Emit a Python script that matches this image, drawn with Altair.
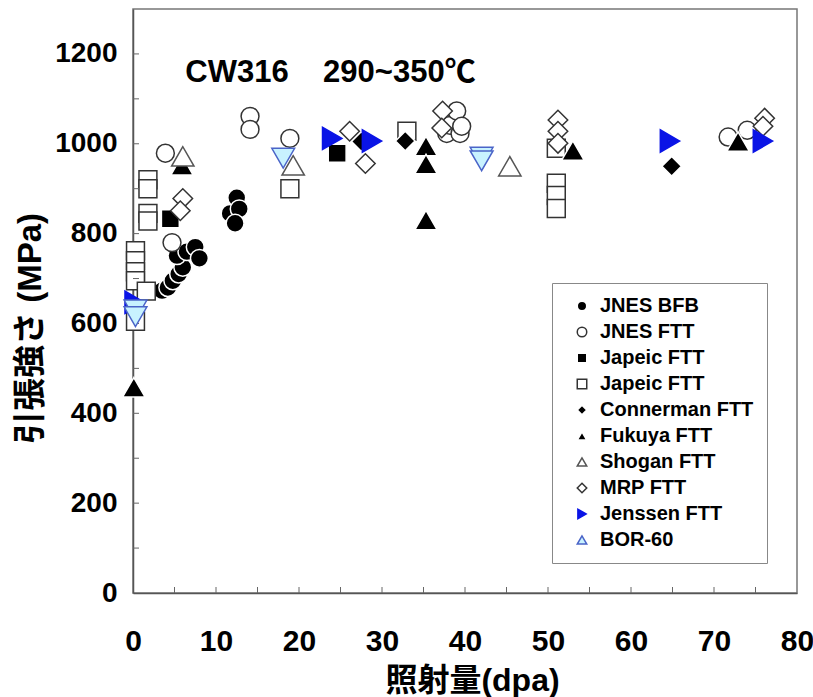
import altair as alt
import pandas as pd

FONT = "Liberation Sans, Arial, Noto Sans CJK JP, sans-serif"

series_names = ["JNES BFB", "JNES FTT", "Japeic FTT", "Japeic FTT\u00a0", "Connerman FTT",
                "Fukuya FTT", "Shogan FTT", "MRP FTT", "Jenssen FTT", "BOR-60"]
shapes = ["circle", "circle", "square", "square", "diamond",
          "triangle-up", "triangle-up", "diamond", "triangle-right", "triangle-up"]
fills = ["#000000", "#ffffff", "#000000", "#ffffff", "#000000",
         "#000000", "#ffffff", "#ffffff", "#0a14e6", "#c8f2ff"]
strokes = ["#ffffff", "#333333", "#ffffff", "#333333", "#ffffff",
           "#ffffff", "#555555", "#333333", "#0a14e6", "#4a64c8"]

jnes_bfb_x = [3.5, 4.2, 4.8, 5.5, 6.0, 5.3, 6.5, 7.5, 8.0, 11.7, 12.5, 12.8, 12.3]
jnes_bfb_y = [673, 680, 695, 710, 725, 751, 760, 770, 745, 845, 880, 855, 823]
jnes_ftt_x = [3.9, 4.7, 14.1, 14.1, 18.9, 37.8, 38.2, 39.0, 39.4, 39.6, 71.7, 74.0]
jnes_ftt_y = [979, 780, 1061, 1032, 1012, 1023, 1041, 1073, 1023, 1039, 1015, 1030]
japeic_f_x = [4.5, 24.6]
japeic_f_y = [833, 979]
japeic_o_x = [1.8, 1.8, 1.8, 1.8, 0.3, 0.3, 0.3, 0.3, 1.6, 0.3, 18.9, 33.0, 51.0, 51.0, 51.0, 51.0]
japeic_o_y = [920, 900, 845, 828, 762, 740, 715, 695, 672, 605, 900, 1028, 990, 912, 885, 856]
conner_x = [27.5, 32.8, 64.9]
conner_y = [1005, 1006, 950]
fukuya_x = [0.1, 5.9, 35.3, 35.3, 35.3, 53.0, 72.9]
fukuya_y = [458, 952, 995, 955, 830, 985, 1005]
shogan_x = [6.0, 19.3, 45.4]
shogan_y = [972, 952, 950]
mrp_x = [6.0, 5.7, 26.1, 28.0, 37.3, 37.2, 51.2, 51.2, 51.2, 76.1, 75.9]
mrp_y = [878, 851, 1028, 956, 1073, 1035, 1053, 1028, 1001, 1057, 1039]
jenssen_x = [0.2, 24.0, 28.8, 64.7, 75.9]
jenssen_y = [647, 1012, 1006, 1006, 1006]
bor_x = [0.3, 0.3, 18.1, 42.0, 42.0]
bor_y = [630, 615, 968, 970, 962]

xs = [jnes_bfb_x, jnes_ftt_x, japeic_f_x, japeic_o_x, conner_x,
      fukuya_x, shogan_x, mrp_x, jenssen_x, bor_x]
ys = [jnes_bfb_y, jnes_ftt_y, japeic_f_y, japeic_o_y, conner_y,
      fukuya_y, shogan_y, mrp_y, jenssen_y, bor_y]

rows = []
for name, xl, yl in zip(series_names, xs, ys):
    for a, b in zip(xl, yl):
        rows.append({"series": name, "dpa": a, "mpa": b})
df = pd.DataFrame(rows)

x_ticks = [0, 10, 20, 30, 40, 50, 60, 70, 80]
y_ticks = [0, 200, 400, 600, 800, 1000, 1200]
x_minor = [5, 10, 15, 20, 25, 30, 35, 40, 45, 50, 55, 60, 65, 70, 75]
y_minor = [100, 200, 300, 400, 500, 600, 700, 800, 900, 1000, 1100, 1200]

W, H = 664, 584
xscale = alt.Scale(domain=[0, 80], nice=False, zero=False)
yscale = alt.Scale(domain=[0, 1300], nice=False, zero=False)

leg = alt.Legend(
    title=None, orient="none", legendX=419, legendY=274,
    labelFont=FONT, labelFontSize=20, labelFontWeight="bold", labelColor="#000",
    symbolSize=90, symbolStrokeWidth=1.5, rowPadding=6, padding=13,
    strokeColor="#888888", fillColor="#ffffff", labelOffset=8, symbolOffset=7,
)

x_axis = alt.Axis(
    values=x_ticks, ticks=False, title="照射量(dpa)", grid=False, labelFlush=False,
    labelFont=FONT, labelFontSize=30, labelFontWeight="bold", labelColor="#000",
    labelPadding=33, titleFont=FONT, titleFontSize=32, titleFontWeight="bold",
    titleColor="#000", titleX=339, titleY=87, titleBaseline="middle",
    domainColor="#555", domainWidth=1.5)
y_axis = alt.Axis(
    values=y_ticks, ticks=False, title="引張強さ (MPa)", grid=False, format="d",
    labelFlush=False,
    labelFont=FONT, labelFontSize=28, labelFontWeight="bold", labelColor="#000",
    labelPadding=16, titleFont=FONT, titleFontSize=33, titleFontWeight="bold",
    titleColor="#000", titleX=-103, titleY=319, titleBaseline="middle",
    titleAngle=-90, domainColor="#555", domainWidth=1.5)

enc_shape = alt.Shape("series:N", scale=alt.Scale(domain=series_names, range=shapes), legend=leg)
enc_fill = alt.Fill("series:N", scale=alt.Scale(domain=series_names, range=fills), legend=leg)
enc_stroke = alt.Stroke("series:N", scale=alt.Scale(domain=series_names, range=strokes), legend=leg)


def group_layer(names, size, with_axes):
    c = alt.Chart(df).transform_filter(
        alt.FieldOneOfPredicate(field="series", oneOf=names)
    ).mark_point(filled=True, strokeWidth=1.5, opacity=1, size=size)
    if with_axes:
        xe = alt.X("dpa:Q", scale=xscale, axis=x_axis)
        ye = alt.Y("mpa:Q", scale=yscale, axis=y_axis)
    else:
        xe = alt.X("dpa:Q", axis=None)
        ye = alt.Y("mpa:Q", axis=None)
    return c.encode(x=xe, y=ye, shape=enc_shape, fill=enc_fill, stroke=enc_stroke)


round_sq = group_layer(["JNES BFB", "JNES FTT", "Japeic FTT", "Japeic FTT\u00a0"], 320, True)
diam = group_layer(["Connerman FTT", "MRP FTT"], 380, False)
tri = group_layer(["Fukuya FTT", "Shogan FTT", "Jenssen FTT"], 500, False)

bor = alt.Chart(df).transform_filter(
    alt.datum.series == "BOR-60"
).mark_point(filled=True, size=520, strokeWidth=1.5, shape="triangle-down",
             fill="#c8f2ff", stroke="#4a64c8", opacity=1).encode(
    x=alt.X("dpa:Q", axis=None),
    y=alt.Y("mpa:Q", axis=None),
)

xt = alt.Chart(pd.DataFrame({"v": x_minor})).mark_rule(color="#666", strokeWidth=1).encode(
    x=alt.X("v:Q", axis=None), y=alt.value(H), y2=alt.value(H - 6))
yt = alt.Chart(pd.DataFrame({"v": y_minor})).mark_rule(color="#666", strokeWidth=1).encode(
    y=alt.Y("v:Q", axis=None), x=alt.value(0), x2=alt.value(6))

ann_x = [6.3]
ann_y = [1157]
ann_t = ["CW316\u00a0\u00a0\u00a0\u00a0290~350℃"]
ann = alt.Chart(pd.DataFrame({"x": ann_x, "y": ann_y, "t": ann_t})).mark_text(
    align="left", baseline="middle", font=FONT, fontSize=31, fontWeight="bold", color="#000"
).encode(x=alt.X("x:Q", axis=None), y=alt.Y("y:Q", axis=None), text="t:N")

chart = alt.layer(round_sq, xt, yt, ann, diam, tri, bor).resolve_axis(
    x="independent", y="independent"
).properties(
    width=W, height=H,
    autosize=alt.AutoSizeParams(type="none"),
    padding={"left": 133, "top": 9, "right": 16, "bottom": 104},
).configure_view(stroke="#777", strokeWidth=1.5)

chart.save("out.html", embed_options={"renderer": "svg", "actions": False})
